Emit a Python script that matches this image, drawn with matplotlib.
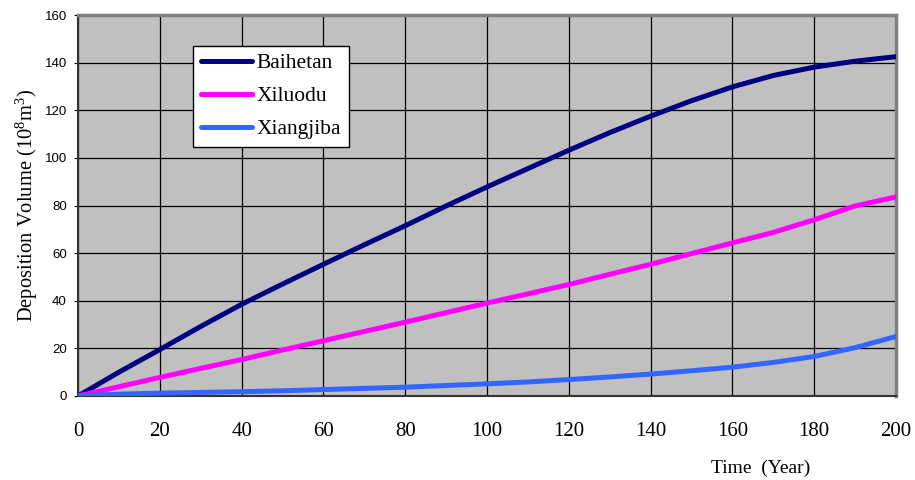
import numpy as np
import matplotlib
matplotlib.use('Agg')
import matplotlib.pyplot as plt

plt.rcParams['font.family'] = ['Liberation Serif', 'DejaVu Serif']
plt.rcParams['mathtext.default'] = 'regular'

# years and deposition volume (10^8 m^3)
years = [0, 10, 20, 30, 40, 50, 60, 70, 80, 90, 100, 110, 120, 130, 140, 150, 160, 170, 180, 190, 200]
baihetan = [0, 10, 19.5, 29.2, 38.5, 47.0, 55.3, 63.5, 71.5, 79.8, 87.8, 95.5, 103.2, 110.6, 117.5, 124.0, 129.8, 134.6, 138.1, 140.6, 142.5]
xiluodu = [0, 3.9, 7.8, 11.6, 15.3, 19.3, 23.2, 27.1, 31.0, 35.0, 39.0, 42.9, 46.8, 51.1, 55.3, 59.8, 64.3, 68.7, 74.0, 79.8, 83.6]
xiangjiba = [0, 0.8, 1.2, 1.5, 1.8, 2.2, 2.7, 3.2, 3.7, 4.4, 5.1, 5.9, 6.9, 8.0, 9.2, 10.6, 12.1, 14.1, 16.6, 20.3, 25.0]

names = ['Baihetan', 'Xiluodu', 'Xiangjiba']
colors = ['#000080', '#FF00FF', '#3366FF']

fig = plt.figure(figsize=(9.15, 4.8), dpi=100)
ax = fig.add_axes([78/915, 1 - 396/480, 818/915, 381/480])
ax.set_facecolor('#C0C0C0')

for vals, name, c in zip([baihetan, xiluodu, xiangjiba], names, colors):
    ax.plot(years, vals, color=c, lw=3.6, label=name, solid_capstyle='round', zorder=3)

ax.set_xlim(0, 200)
ax.set_ylim(0, 160)
ax.set_xticks(np.arange(0, 201, 20))
ax.set_yticks(np.arange(0, 161, 20))
ax.grid(True, color='black', lw=0.9)
ax.set_axisbelow(True)

for s in ['top', 'right']:
    ax.spines[s].set_color('#808080')
    ax.spines[s].set_linewidth(2.5)
for s in ['left', 'bottom']:
    ax.spines[s].set_color('#333333')
    ax.spines[s].set_linewidth(1.5)

ax.tick_params(axis='y', labelsize=9.5, length=3, pad=5, labelfontfamily='Liberation Sans')
ax.tick_params(axis='x', labelsize=15, length=0, pad=19)

ax.set_ylabel('Deposition Volume (10$^{8}$m$^{3}$)', fontsize=14.8)
ax.yaxis.set_label_coords(-0.046, 0.5)
ax.set_xlabel('Time  (Year)', fontsize=14)
ax.xaxis.set_label_coords(0.834, -0.168)

leg = ax.legend(loc='upper left', bbox_to_anchor=(0.1406, 0.919), borderaxespad=0,
                fontsize=15.5, frameon=True, fancybox=False, framealpha=1,
                edgecolor='black', handlelength=2.4, handletextpad=0.2,
                labelspacing=0.6, borderpad=0.35)
leg.get_frame().set_linewidth(1.0)

fig.savefig('out.png', dpi=100)
